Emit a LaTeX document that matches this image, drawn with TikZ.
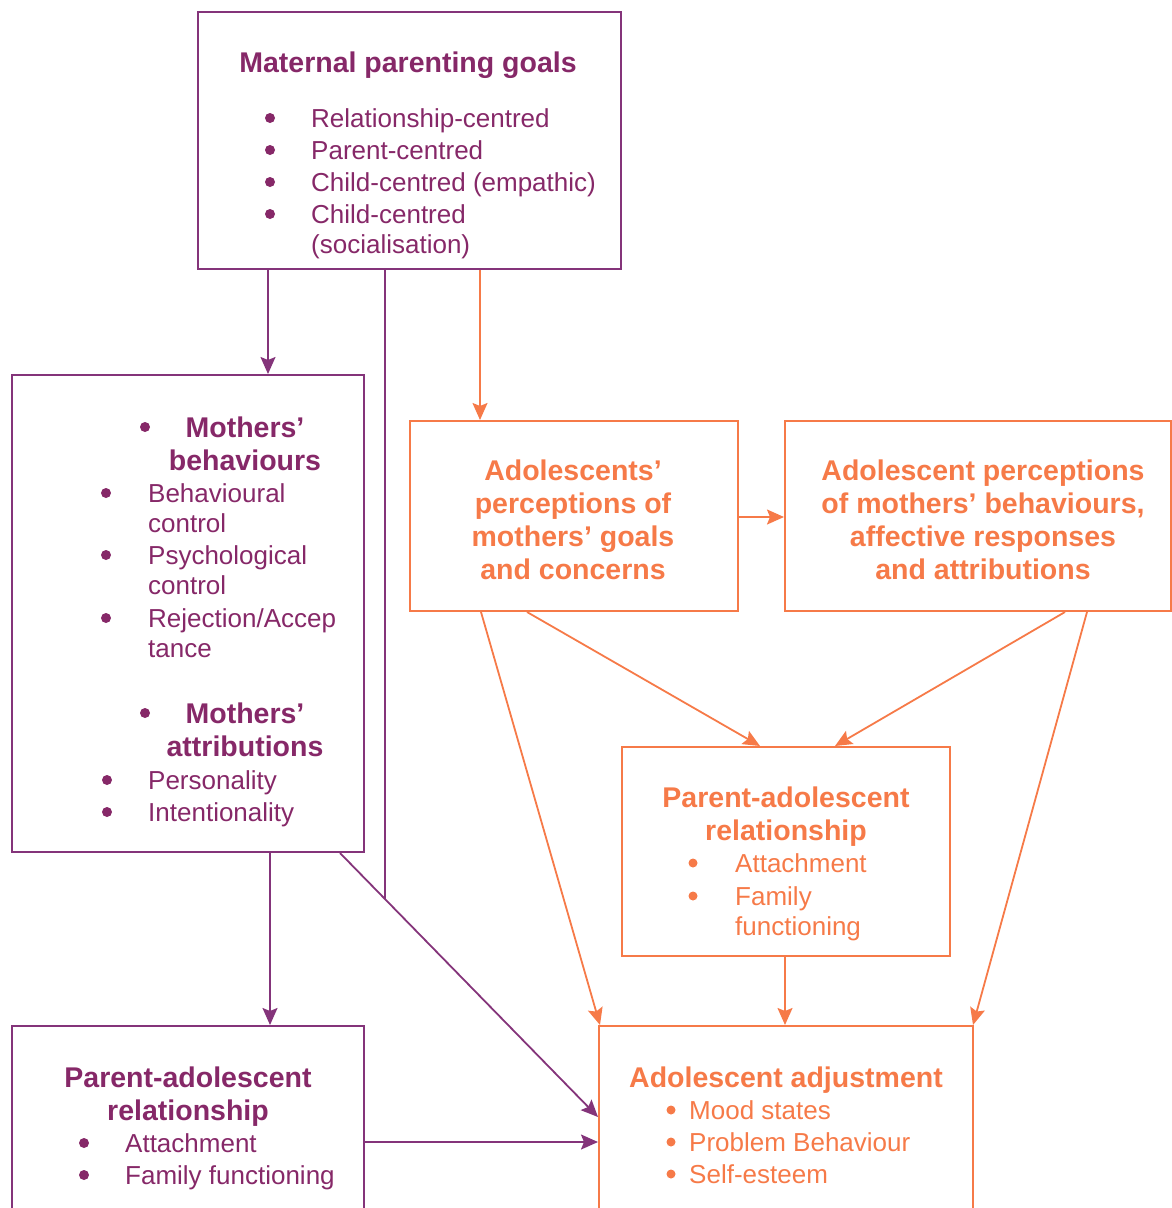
\documentclass[tikz,border=0pt]{standalone}
\usepackage{fontspec}
\setmainfont{Liberation Sans}
\usetikzlibrary{arrows.meta}
\definecolor{mumplum}{RGB}{134,40,104}
\definecolor{mumline}{RGB}{132,52,122}
\definecolor{teenorange}{RGB}{246,122,72}
\tikzset{
	plumbox/.style={draw=mumline,line width=2pt,anchor=north west,inner sep=0pt},
	orangebox/.style={draw=teenorange,line width=2pt,anchor=north west,inner sep=0pt},
	plumhead/.style={text=mumplum,font=\fontsize{28.5}{33}\selectfont\bfseries,anchor=base,inner sep=0pt},
	orangehead/.style={text=teenorange,font=\fontsize{28.5}{33}\selectfont\bfseries,anchor=base,inner sep=0pt},
	plumtext/.style={text=mumplum,font=\fontsize{26}{32}\selectfont,anchor=base west,inner sep=0pt},
	orangetext/.style={text=teenorange,font=\fontsize{26}{32}\selectfont,anchor=base west,inner sep=0pt},
	plumdot/.style={circle,fill=mumplum,inner sep=0pt,minimum size=10pt},
	orangedot/.style={circle,fill=teenorange,inner sep=0pt,minimum size=9pt},
	plumline/.style={draw=mumline,line width=1.8pt},
	plumarrow/.style={plumline,-{Stealth[length=17pt,width=15pt,inset=3pt]}},
	orangearrow/.style={draw=teenorange,line width=1.8pt,-{Stealth[length=17pt,width=15pt,inset=3pt]}}
}
\begin{document}
\begin{tikzpicture}[x=1pt,y=-1pt]
			\useasboundingbox (0,0) rectangle (1171,1208);
			% boxes
			\node[plumbox,minimum width=423pt,minimum height=257pt] (goals) at(197,11){};
			\node[plumbox,minimum width=352pt,minimum height=477pt] (mbehav) at(11,374){};
			\node[plumbox,minimum width=352pt,minimum height=230pt] (prelL) at(11,1025){};
			\node[orangebox,minimum width=328pt,minimum height=190pt] (percgoals) at(409,420){};
			\node[orangebox,minimum width=386pt,minimum height=190pt] (percbeh) at(784,420){};
			\node[orangebox,minimum width=328pt,minimum height=209pt] (prelR) at(621,746){};
			\node[orangebox,minimum width=374pt,minimum height=230pt] (adjust) at(598,1025){};
			% maternal parenting goals
			\node[plumhead] (goalstitle) at(408,72){Maternal parenting goals};
			\foreach \y/\txt [count=\i] in {127/Relationship-centred,159/Parent-centred,191/Child-centred (empathic),223/Child-centred}
				{\node[plumdot] (gd\i) at(270,\y-9){};
				\node[plumtext] (gi\i) at(311,\y){\txt};}
			\node[plumtext] (gi5) at(311,253){(socialisation)};
			% mothers' behaviours and attributions
			\node[plumdot] (hd1) at(145,427){};
			\node[plumhead] (behtitle1) at(245,437){Mothers’};
			\node[plumhead] (behtitle2) at(245,470){behaviours};
			\node[plumdot] (bd1) at(106,493){};
			\node[plumtext] (bi1) at(148,502){Behavioural};
			\node[plumtext] (bi1b) at(148,532){control};
			\node[plumdot] (bd2) at(106,555){};
			\node[plumtext] (bi2) at(148,564){Psychological};
			\node[plumtext] (bi2b) at(148,594){control};
			\node[plumdot] (bd3) at(106,618){};
			\node[plumtext] (bi3) at(148,627){Rejection/Accep};
			\node[plumtext] (bi3b) at(148,657){tance};
			\node[plumdot] (hd2) at(145,713){};
			\node[plumhead] (atttitle1) at(245,723){Mothers’};
			\node[plumhead] (atttitle2) at(245,756){attributions};
			\node[plumdot] (ad1) at(107,780){};
			\node[plumtext] (ai1) at(148,789){Personality};
			\node[plumdot] (ad2) at(107,812){};
			\node[plumtext] (ai2) at(148,821){Intentionality};
			% parent-adolescent relationship (left)
			\node[plumhead] (prelLt1) at(188,1087){Parent-adolescent};
			\node[plumhead] (prelLt2) at(188,1120){relationship};
			\node[plumdot] (pld1) at(84,1143){};
			\node[plumtext] (pli1) at(125,1152){Attachment};
			\node[plumdot] (pld2) at(84,1175){};
			\node[plumtext] (pli2) at(125,1184){Family functioning};
			% adolescents' perceptions
			\foreach \y/\txt [count=\i] in {480/Adolescents’,513/perceptions of,546/mothers’ goals,579/and concerns}
				\node[orangehead] (pg\i) at(573,\y){\txt};
			\foreach \y/\txt [count=\i] in {480/Adolescent perceptions,513/{of mothers’ behaviours,},546/affective responses,579/and attributions}
				\node[orangehead] (pb\i) at(983,\y){\txt};
			% parent-adolescent relationship (right)
			\node[orangehead] (prelRt1) at(786,807){Parent-adolescent};
			\node[orangehead] (prelRt2) at(786,840){relationship};
			\node[orangedot] (prd1) at(693,863){};
			\node[orangetext] (pri1) at(735,872){Attachment};
			\node[orangedot] (prd2) at(693,896){};
			\node[orangetext] (pri2) at(735,905){Family};
			\node[orangetext] (pri2b) at(735,935){functioning};
			% adolescent adjustment
			\node[orangehead] (adjtitle) at(786,1087){Adolescent adjustment};
			\foreach \y/\txt [count=\i] in {1119/Mood states,1151/Problem Behaviour,1183/Self-esteem}
				{\node[orangedot] (jd\i) at(671,\y-9){};
				\node[orangetext] (ji\i) at(689,\y){\txt};}
			% purple connectors
			\draw[plumarrow] (268,0 |- goals.south) -- (268,0 |- mbehav.north);
			\draw[plumarrow] (270,0 |- mbehav.south) -- (270,0 |- prelL.north);
			\draw[plumarrow] (340,0 |- mbehav.south) -- (adjust.west |- 0,1117) coordinate[pos=0.1744] (join);
			\draw[plumline] (385,0 |- goals.south) -- (385,0 |- join);
			\draw[plumarrow] (prelL.east |- 0,1142) -- (adjust.west |- 0,1142);
			% orange connectors
			\draw[orangearrow] (480,0 |- goals.south) -- (480,0 |- percgoals.north);
			\draw[orangearrow] (percgoals.east |- 0,517) -- (percbeh.west |- 0,517);
			\draw[orangearrow] (527,0 |- percgoals.south) -- (760,0 |- prelR.north);
			\draw[orangearrow] (1065,0 |- percbeh.south) -- (835,0 |- prelR.north);
			\draw[orangearrow] (481,0 |- percgoals.south) -- (600,0 |- adjust.north);
			\draw[orangearrow] (1087,0 |- percbeh.south) -- (973,0 |- adjust.north);
			\draw[orangearrow] (785,0 |- prelR.south) -- (785,0 |- adjust.north);
			\end{tikzpicture}
\end{document}
